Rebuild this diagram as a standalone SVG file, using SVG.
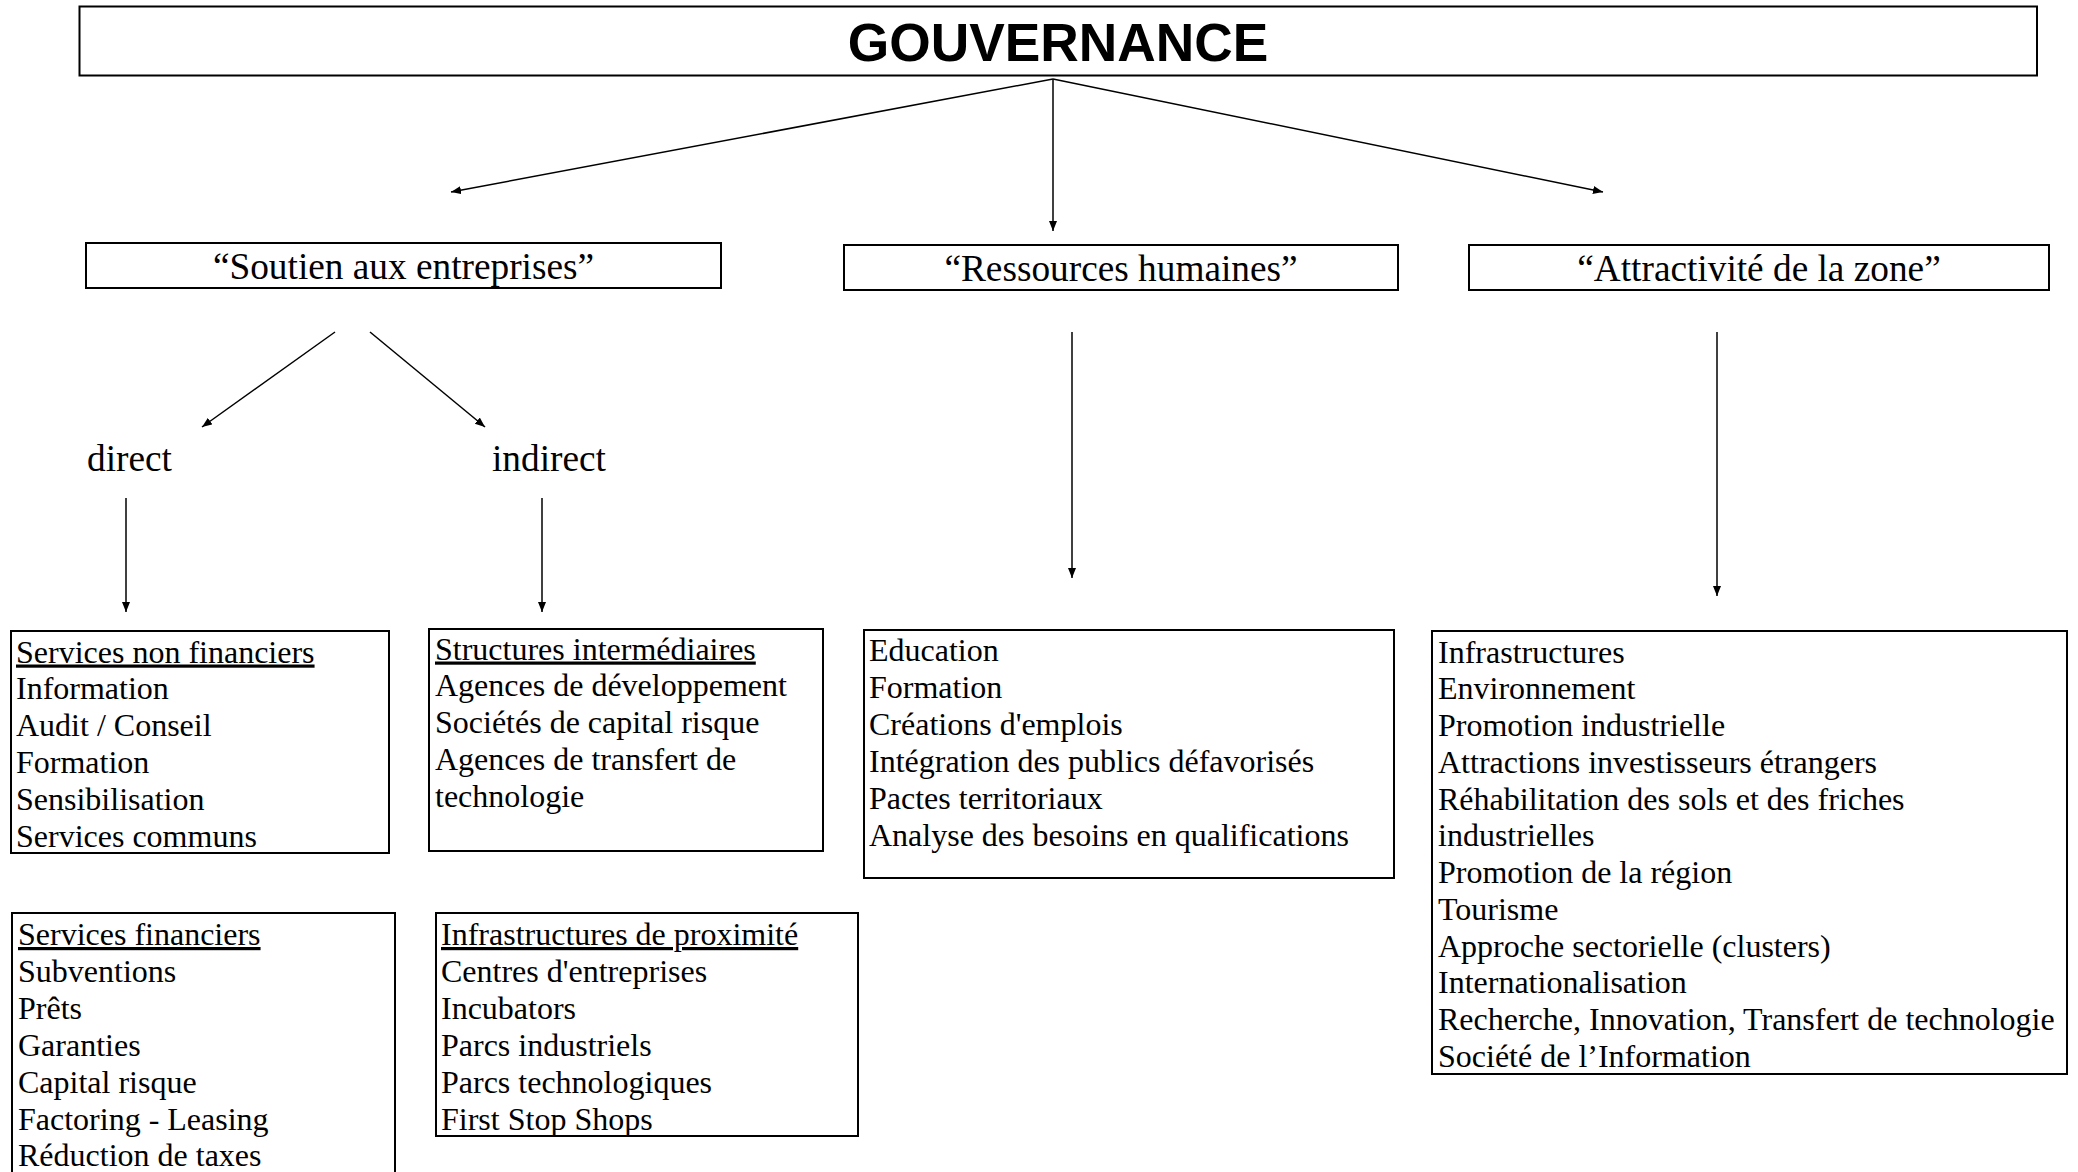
<svg xmlns="http://www.w3.org/2000/svg" width="2078" height="1172" viewBox="0 0 2078 1172">
<style>
.box{fill:#fff;stroke:#000;stroke-width:2}
.conn{stroke:#000;stroke-width:1.5;fill:none}
.t{font-family:"Liberation Serif","Times New Roman",serif;font-size:32px;fill:#000}
.lbl{font-family:"Liberation Serif","Times New Roman",serif;font-size:37.3px;fill:#000}
.title{font-family:"Liberation Sans",Arial,sans-serif;font-size:53.3px;font-weight:bold;fill:#000}
.u{text-decoration:underline}
</style>
<defs>
<marker id="ah" markerUnits="userSpaceOnUse" markerWidth="11" markerHeight="9" refX="10" refY="4" orient="auto">
<path d="M0,0 L10,4 L0,8 z" fill="#000"/>
</marker>
</defs>
<rect width="2078" height="1172" fill="#fff"/>
<g id="connectors">
<line class="conn" x1="1053" y1="79" x2="451" y2="192" marker-end="url(#ah)"/>
<line class="conn" x1="1053" y1="79" x2="1053" y2="231" marker-end="url(#ah)"/>
<line class="conn" x1="1053" y1="79" x2="1603" y2="192" marker-end="url(#ah)"/>
<line class="conn" x1="335" y1="332" x2="202" y2="427" marker-end="url(#ah)"/>
<line class="conn" x1="370" y1="332" x2="485" y2="427" marker-end="url(#ah)"/>
<line class="conn" x1="126" y1="498" x2="126" y2="612" marker-end="url(#ah)"/>
<line class="conn" x1="542" y1="498" x2="542" y2="612" marker-end="url(#ah)"/>
<line class="conn" x1="1072" y1="332" x2="1072" y2="578" marker-end="url(#ah)"/>
<line class="conn" x1="1717" y1="332" x2="1717" y2="596" marker-end="url(#ah)"/>
</g>
<g id="gouvernance">
<rect class="box" x="79.5" y="6.5" width="1957.5" height="69"/>
<text class="title" x="1058" y="60.5" text-anchor="middle">GOUVERNANCE</text>
</g>
<g id="soutien">
<rect class="box" x="86" y="243" width="635" height="45"/>
<text class="lbl" x="403.5" y="279" text-anchor="middle">“Soutien aux entreprises”</text>
</g>
<g id="ressources">
<rect class="box" x="844" y="245" width="554" height="45"/>
<text class="lbl" x="1121" y="281" text-anchor="middle">“Ressources humaines”</text>
</g>
<g id="attractivite">
<rect class="box" x="1469" y="245" width="580" height="45"/>
<text class="lbl" x="1759" y="281" text-anchor="middle">“Attractivité de la zone”</text>
</g>
<g id="direct">
<text class="lbl" x="87" y="471">direct</text>
</g>
<g id="indirect">
<text class="lbl" x="492" y="471">indirect</text>
</g>
<g id="services-non-financiers">
<rect class="box" x="11" y="631" width="378" height="222"/>
<text class="t" x="16" y="662.5"><tspan class="u">Services non financiers</tspan><tspan x="16" dy="36.9">Information</tspan><tspan x="16" dy="36.9">Audit / Conseil</tspan><tspan x="16" dy="36.9">Formation</tspan><tspan x="16" dy="36.9">Sensibilisation</tspan><tspan x="16" dy="36.9">Services communs</tspan></text>
</g>
<g id="structures-intermediaires">
<rect class="box" x="429" y="629" width="394" height="222"/>
<text class="t" x="435" y="659.5"><tspan class="u">Structures intermédiaires</tspan><tspan x="435" dy="36.9">Agences de développement</tspan><tspan x="435" dy="36.9">Sociétés de capital risque</tspan><tspan x="435" dy="36.9">Agences de transfert de</tspan><tspan x="435" dy="36.9">technologie</tspan></text>
</g>
<g id="ressources-liste">
<rect class="box" x="864" y="630" width="530" height="248"/>
<text class="t" x="869" y="661"><tspan>Education</tspan><tspan x="869" dy="36.9">Formation</tspan><tspan x="869" dy="36.9">Créations d'emplois</tspan><tspan x="869" dy="36.9">Intégration des publics défavorisés</tspan><tspan x="869" dy="36.9">Pactes territoriaux</tspan><tspan x="869" dy="36.9">Analyse des besoins en qualifications</tspan></text>
</g>
<g id="attractivite-liste">
<rect class="box" x="1432" y="631" width="635" height="443"/>
<text class="t" x="1438" y="662.5"><tspan>Infrastructures</tspan><tspan x="1438" dy="36.75">Environnement</tspan><tspan x="1438" dy="36.75">Promotion industrielle</tspan><tspan x="1438" dy="36.75">Attractions investisseurs étrangers</tspan><tspan x="1438" dy="36.75">Réhabilitation des sols et des friches</tspan><tspan x="1438" dy="36.75">industrielles</tspan><tspan x="1438" dy="36.75">Promotion de la région</tspan><tspan x="1438" dy="36.75">Tourisme</tspan><tspan x="1438" dy="36.75">Approche sectorielle (clusters)</tspan><tspan x="1438" dy="36.75">Internationalisation</tspan><tspan x="1438" dy="36.75">Recherche, Innovation, Transfert de technologie</tspan><tspan x="1438" dy="36.75">Société de l’Information</tspan></text>
</g>
<g id="services-financiers">
<rect class="box" x="12" y="913" width="383" height="275"/>
<text class="t" x="18" y="945"><tspan class="u">Services financiers</tspan><tspan x="18" dy="36.9">Subventions</tspan><tspan x="18" dy="36.9">Prêts</tspan><tspan x="18" dy="36.9">Garanties</tspan><tspan x="18" dy="36.9">Capital risque</tspan><tspan x="18" dy="36.9">Factoring - Leasing</tspan><tspan x="18" dy="36.9">Réduction de taxes</tspan></text>
</g>
<g id="infrastructures-proximite">
<rect class="box" x="436" y="913" width="422" height="223"/>
<text class="t" x="441" y="945"><tspan class="u">Infrastructures de proximité</tspan><tspan x="441" dy="36.9">Centres d'entreprises</tspan><tspan x="441" dy="36.9">Incubators</tspan><tspan x="441" dy="36.9">Parcs industriels</tspan><tspan x="441" dy="36.9">Parcs technologiques</tspan><tspan x="441" dy="36.9">First Stop Shops</tspan></text>
</g>
</svg>
